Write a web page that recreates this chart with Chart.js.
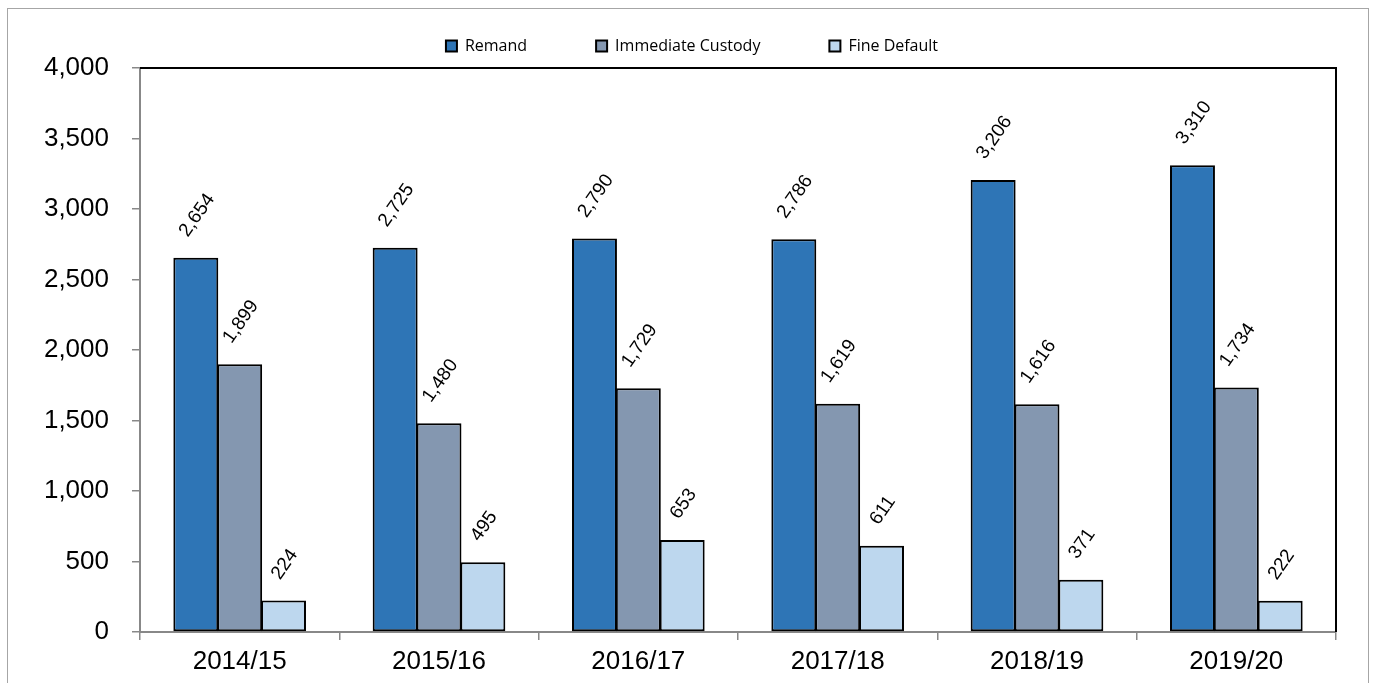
<!DOCTYPE html>
<html>
<head>
<meta charset="utf-8">
<script src="https://cdn.jsdelivr.net/npm/chart.js@4/dist/chart.umd.min.js"></script>
<style>
  html, body { margin: 0; padding: 0; background: #fff; overflow: hidden; }
  #wrap { position: absolute; left: 7px; top: 8px; width: 1360px; height: 674px; border: 1px solid #a6a6a6; }
</style>
</head>
<body>
<div id="wrap"><canvas id="custody-chart"></canvas></div>
<script>
const years = ['2014/15', '2015/16', '2016/17', '2017/18', '2018/19', '2019/20'];
const remand = [2654, 2725, 2790, 2786, 3206, 3310];
const immediateCustody = [1899, 1480, 1729, 1619, 1616, 1734];
const fineDefault = [224, 495, 653, 611, 371, 222];
const yTicks = [0, 500, 1000, 1500, 2000, 2500, 3000, 3500, 4000];

const fmt = (v) => v.toLocaleString('en-US');

// value labels, rotated like the Excel original
const barLabels = {
  id: 'barLabels',
  afterDatasetsDraw(chart) {
    const ctx = chart.ctx;
    const ang = 55 * Math.PI / 180;
    const h = 19 * 0.716;
    ctx.save();
    ctx.font = '19px Arial, "Liberation Sans", sans-serif';
    ctx.fillStyle = '#000';
    chart.data.datasets.forEach((ds, i) => {
      chart.getDatasetMeta(i).data.forEach((bar, j) => {
        const txt = fmt(ds.data[j]);
        const w = ctx.measureText(txt).width;
        const dy = w * Math.sin(ang) + h * Math.cos(ang);
        ctx.save();
        ctx.translate(bar.x, bar.y - 20 - dy / 2);
        ctx.rotate(-ang);
        ctx.textAlign = 'center';
        ctx.textBaseline = 'alphabetic';
        ctx.fillText(txt, 0, h / 2);
        ctx.restore();
      });
    });
    ctx.restore();
  }
};

// black frame on top and right of the plot area, legend height fix
const plotFrame = {
  id: 'plotFrame',
  afterInit(chart) {
    const lg = chart.legend;
    if (!lg) return;
    const orig = lg.fit.bind(lg);
    lg.fit = function () {
      orig();
      this.height = 99;
      if (this.lineWidths) this.lineWidths[0] -= 40;
    };
  },
  afterDatasetsDraw(chart) {
    const { ctx, chartArea: a } = chart;
    ctx.save();
    ctx.strokeStyle = '#000';
    ctx.lineWidth = 2;
    ctx.beginPath();
    ctx.moveTo(a.left, a.top);
    ctx.lineTo(a.right, a.top);
    ctx.lineTo(a.right, a.bottom);
    ctx.stroke();
    ctx.restore();
  }
};

new Chart(document.getElementById('custody-chart'), {
  type: 'bar',
  data: {
    labels: years,
    datasets: [
      { label: 'Remand', data: remand, backgroundColor: '#2E75B6' },
      { label: 'Immediate Custody', data: immediateCustody, backgroundColor: '#8497B0' },
      { label: 'Fine Default', data: fineDefault, backgroundColor: '#BDD7EE' },
    ],
  },
  options: {
    responsive: true,
    maintainAspectRatio: false,
    animation: false,
    datasets: {
      bar: {
        borderColor: '#000',
        borderWidth: 2,
        borderSkipped: false,
        categoryPercentage: 0.66,
        barPercentage: 1.025,
      },
    },
    layout: { padding: { top: -40, right: 32, left: 0, bottom: 0 } },
    plugins: {
      tooltip: { enabled: false },
      legend: {
        position: 'top',
        labels: {
          boxWidth: 11,
          boxHeight: 11,
          padding: 69,
          color: '#000',
          font: { family: '"Open Sans", sans-serif', size: 16 },
        },
      },
    },
    scales: {
      x: {
        grid: { drawOnChartArea: false, color: '#888', tickLength: 8, lineWidth: 1.5 },
        border: { color: '#888', width: 2 },
        ticks: { color: '#000', padding: 6, font: { family: 'Arial, "Liberation Sans", sans-serif', size: 26 } },
        afterFit(s) { s.height = 51; },
      },
      y: {
        min: 0,
        max: 4000,
        afterBuildTicks(s) { s.ticks = yTicks.map((v) => ({ value: v })); },
        grid: { drawOnChartArea: false, color: '#888', tickLength: 8, lineWidth: 1.5 },
        border: { color: '#888', width: 2 },
        ticks: {
          color: '#000',
          padding: 23,
          font: { family: 'Arial, "Liberation Sans", sans-serif', size: 26 },
          callback: (v) => fmt(v),
        },
        afterFit(s) { s.width = 132; },
      },
    },
  },
  plugins: [barLabels, plotFrame],
});
</script>
</body>
</html>
